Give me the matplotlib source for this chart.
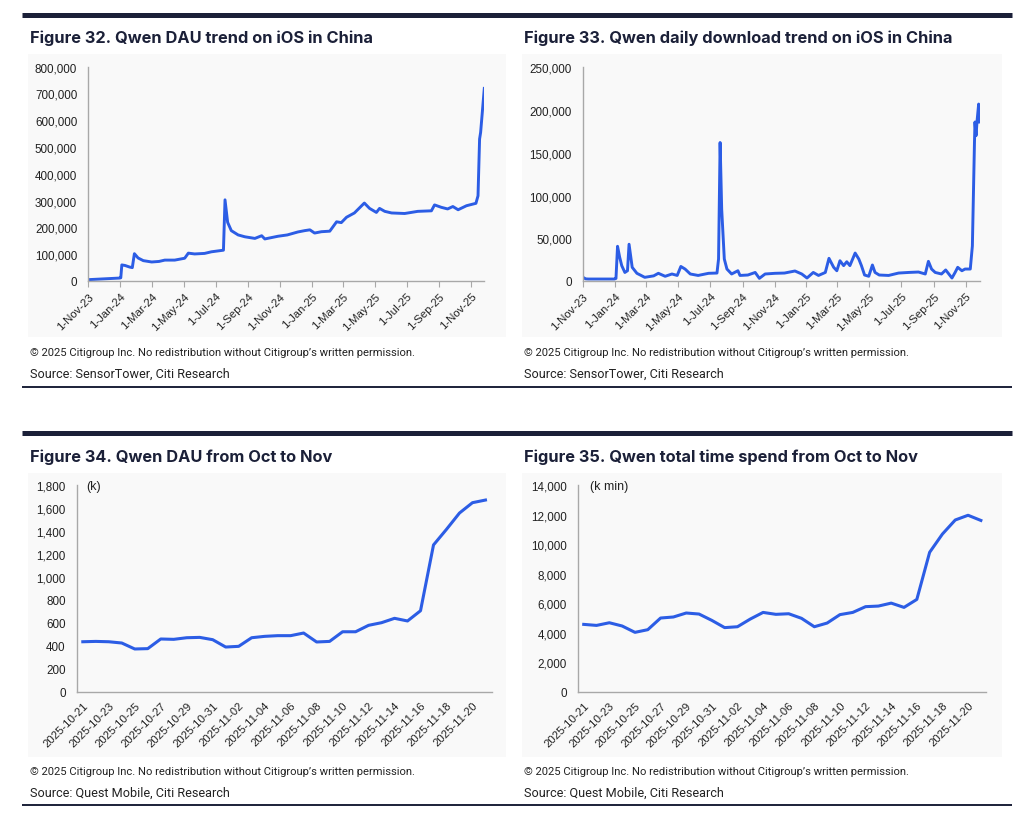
import matplotlib
matplotlib.use("Agg")
import matplotlib.pyplot as plt
import matplotlib.dates as mdates
import pandas as pd
from matplotlib.patches import Rectangle
from matplotlib.lines import Line2D

# ---------------- data ----------------
dau_ios_dates = [
    "2023-11-01", "2023-12-31", "2024-01-02", "2024-01-04", "2024-01-10", "2024-01-19",
    "2024-01-24", "2024-01-28", "2024-02-04", "2024-02-14", "2024-03-01", "2024-03-15",
    "2024-03-26", "2024-04-14", "2024-05-03", "2024-05-10", "2024-05-22", "2024-06-10",
    "2024-06-23", "2024-07-16", "2024-07-19", "2024-07-24", "2024-07-31", "2024-08-13",
    "2024-08-26", "2024-09-14", "2024-09-27", "2024-10-03", "2024-10-28", "2024-11-15",
    "2024-12-05", "2024-12-18", "2024-12-28", "2025-01-06", "2025-01-19", "2025-02-04",
    "2025-02-17", "2025-02-26", "2025-03-08", "2025-03-23", "2025-04-11", "2025-04-21",
    "2025-05-04", "2025-05-10", "2025-05-20", "2025-06-02", "2025-06-27", "2025-07-22",
    "2025-08-17", "2025-08-23", "2025-09-05", "2025-09-17", "2025-09-27", "2025-10-07",
    "2025-10-23", "2025-11-10", "2025-11-14", "2025-11-17", "2025-11-19", "2025-11-26",
]
dau_ios_values = [
    5000, 11000, 12000, 60000, 58000, 52000,
    50000, 102000, 86000, 76000, 71000, 73000,
    78000, 78000, 85000, 104000, 101000, 103000,
    109000, 115000, 303000, 219000, 188000, 172000,
    165000, 159000, 169000, 157000, 167000, 172000,
    183000, 188000, 191000, 179000, 184000, 186000,
    221000, 218000, 238000, 254000, 291000, 271000,
    256000, 271000, 260000, 254000, 252000, 260000,
    262000, 284000, 275000, 269000, 278000, 266000,
    281000, 290000, 318000, 530000, 555000, 719000,
]

dl_ios_dates = [
    "2023-11-01", "2023-11-06", "2023-11-11", "2023-12-31", "2024-01-03", "2024-01-06",
    "2024-01-10", "2024-01-14", "2024-01-20", "2024-01-25", "2024-01-28", "2024-02-03",
    "2024-02-12", "2024-02-27", "2024-03-15", "2024-03-24", "2024-04-06", "2024-04-19",
    "2024-04-29", "2024-05-06", "2024-05-14", "2024-05-24", "2024-06-08", "2024-06-28",
    "2024-07-14", "2024-07-17", "2024-07-20", "2024-07-23", "2024-07-28", "2024-08-02",
    "2024-08-11", "2024-08-23", "2024-08-27", "2024-09-11", "2024-09-25", "2024-10-03",
    "2024-10-14", "2024-11-02", "2024-11-20", "2024-12-10", "2024-12-23", "2025-01-02",
    "2025-01-14", "2025-01-24", "2025-02-06", "2025-02-13", "2025-02-22", "2025-02-28",
    "2025-03-06", "2025-03-13", "2025-03-19", "2025-03-25", "2025-04-04", "2025-04-11",
    "2025-04-16", "2025-04-22", "2025-04-30", "2025-05-07", "2025-05-12", "2025-05-20",
    "2025-06-07", "2025-06-26", "2025-07-15", "2025-08-03", "2025-08-16", "2025-08-22",
    "2025-08-28", "2025-09-04", "2025-09-16", "2025-09-24", "2025-09-30", "2025-10-06",
    "2025-10-12", "2025-10-17", "2025-10-25", "2025-10-31", "2025-11-10", "2025-11-14",
    "2025-11-18", "2025-11-19", "2025-11-21", "2025-11-23", "2025-11-26", "2025-11-28",
]
dl_ios_values = [
    4300, 2500, 2300, 2300, 3000, 40600,
    28000, 18000, 10000, 12000, 43000, 16000,
    9000, 4300, 6000, 9000, 5500, 8200,
    6500, 17000, 14000, 8200, 6500, 9000,
    9300, 25700, 162000, 84000, 25700, 14000,
    8200, 12000, 6500, 7000, 10000, 3100,
    8200, 9000, 9300, 11700, 8200, 3500,
    10000, 6500, 10000, 26500, 16000, 12000,
    23700, 18000, 22500, 18000, 32700, 25700,
    18000, 7000, 5500, 18700, 10000, 7000,
    6500, 9300, 10000, 10500, 8200, 23000,
    14000, 10000, 8200, 12900, 8200, 3500,
    10000, 16000, 12000, 14000, 14000, 41000,
    162000, 186000, 170000, 187500, 207000, 186000,
]

ios_tick_dates = ["2023-11-01", "2024-01-01", "2024-03-01", "2024-05-01", "2024-07-01",
                  "2024-09-01", "2024-11-01", "2025-01-01", "2025-03-01", "2025-05-01",
                  "2025-07-01", "2025-09-01", "2025-11-01"]
ios_tick_labels = ["1-Nov-23", "1-Jan-24", "1-Mar-24", "1-May-24", "1-Jul-24", "1-Sep-24",
                   "1-Nov-24", "1-Jan-25", "1-Mar-25", "1-May-25", "1-Jul-25", "1-Sep-25",
                   "1-Nov-25"]

qm_dates = ["2025-10-21", "2025-10-22", "2025-10-23", "2025-10-24", "2025-10-25",
            "2025-10-26", "2025-10-27", "2025-10-28", "2025-10-29", "2025-10-30",
            "2025-10-31", "2025-11-01", "2025-11-02", "2025-11-03", "2025-11-04",
            "2025-11-05", "2025-11-06", "2025-11-07", "2025-11-08", "2025-11-09",
            "2025-11-10", "2025-11-11", "2025-11-12", "2025-11-13", "2025-11-14",
            "2025-11-15", "2025-11-16", "2025-11-17", "2025-11-18", "2025-11-19",
            "2025-11-20", "2025-11-21"]
qm_dau_k = [435, 438, 435, 424, 372, 375, 459, 456, 470, 473,
            453, 389, 395, 470, 482, 488, 488, 511, 433, 438,
            522, 522, 578, 601, 639, 616, 705, 1278, 1414, 1556,
            1646, 1669]
qm_time_kmin = [4560, 4490, 4670, 4450, 4020, 4200, 4990, 5060, 5330, 5260,
                4830, 4340, 4400, 4920, 5370, 5240, 5280, 4970, 4400, 4650,
                5220, 5370, 5760, 5800, 6000, 5710, 6250, 9440, 10680, 11630,
                11950, 11600]

# ---------------- style ----------------
W, H = 1024, 829
BLUE = "#2c5de5"
NAVY = "#1b2038"
SPINE = "#a8a8a8"
TXT = "#222222"
BG = "#f9f9f9"
TICKFONT = ["Liberation Sans", "DejaVu Sans"]
TITLEFONT = ["Inter", "DejaVu Sans"]
FOOTFONT = ["Liberation Sans Narrow", "Roboto", "DejaVu Sans"]

fig = plt.figure(figsize=(W / 100, H / 100), dpi=100)
fig.patch.set_facecolor("white")


def rect(l, t, r, b):
    return [l / W, 1 - b / H, (r - l) / W, (b - t) / H]


def hline(x0, x1, y, lw, color=NAVY):
    fig.add_artist(Line2D([x0 / W, x1 / W], [1 - y / H, 1 - y / H], lw=lw, color=color,
                          solid_capstyle="butt", transform=fig.transFigure))


def bgpatch(l, t, r, b):
    fig.add_artist(Rectangle((l / W, 1 - b / H), (r - l) / W, (b - t) / H,
                             transform=fig.transFigure, facecolor=BG, edgecolor="none", zorder=0))


# rules
hline(22, 1012, 15.8, 3.6)
hline(22, 1012, 387.7, 1.4)
hline(22, 1012, 434.2, 3.6)
hline(22, 1012, 806.0, 1.4)

# light backgrounds
bgpatch(28, 55, 506, 338)
bgpatch(522, 55, 1002, 338)
bgpatch(28, 474, 506, 758)
bgpatch(522, 474, 1002, 758)

# titles
titles = [("Figure 32. Qwen DAU trend on iOS in China", 30, 38),
          ("Figure 33. Qwen daily download trend on iOS in China", 524, 38),
          ("Figure 34. Qwen DAU from Oct to Nov", 30, 457),
          ("Figure 35. Qwen total time spend from Oct to Nov", 524, 457)]
for t, x, y in titles:
    fig.text(x / W, 1 - y / H, t, ha="left", va="center", fontsize=11.8,
             fontweight="bold", color=NAVY, family=TITLEFONT)

# footers
copy = "\u00a9 2025 Citigroup Inc. No redistribution without Citigroup\u2019s written permission."
foot = [(30, 353, 374, "Source: SensorTower, Citi Research"),
        (524, 353, 374, "Source: SensorTower, Citi Research"),
        (30, 772, 793, "Source: Quest Mobile, Citi Research"),
        (524, 772, 793, "Source: Quest Mobile, Citi Research")]
for x, y1, y2, s in foot:
    fig.text(x / W, 1 - y1 / H, copy, ha="left", va="center", fontsize=8.15,
             color=TXT, family=FOOTFONT)
    fig.text(x / W, 1 - y2 / H, s, ha="left", va="center", fontsize=9.1,
             color=TXT, family=FOOTFONT)


def style_axes(ax):
    ax.set_facecolor("none")
    for s in ("top", "right"):
        ax.spines[s].set_visible(False)
    for s in ("left", "bottom"):
        ax.spines[s].set_color(SPINE)
        ax.spines[s].set_linewidth(1.0)
    ax.tick_params(axis="y", length=0, pad=8, labelsize=8.4, labelcolor=TXT)
    for lab in ax.get_yticklabels():
        lab.set_family(TICKFONT)


def thousands(v, pos=None):
    return f"{int(round(v)):,}"


# ---- top-left: DAU on iOS ----
ax1 = fig.add_axes(rect(88.3, 67.7, 484.3, 282))
d1 = pd.to_datetime(dau_ios_dates)
ax1.plot(d1, dau_ios_values, color=BLUE, lw=2.1, solid_joinstyle="round")
ax1.set_ylim(0, 800000)
ax1.set_yticks(range(0, 800001, 100000))
ax1.yaxis.set_major_formatter(plt.FuncFormatter(thousands))
ax1.set_xlim(pd.Timestamp("2023-11-01"), d1[-1])

# ---- top-right: downloads ----
ax2 = fig.add_axes(rect(583, 68.3, 979.7, 282))
d2 = pd.to_datetime(dl_ios_dates)
ax2.plot(d2, dl_ios_values, color=BLUE, lw=2.1, solid_joinstyle="round")
ax2.set_ylim(0, 250000)
ax2.set_yticks(range(0, 250001, 50000))
ax2.yaxis.set_major_formatter(plt.FuncFormatter(thousands))
ax2.set_xlim(pd.Timestamp("2023-11-01"), d2[-1])

for ax in (ax1, ax2):
    ax.set_xticks(pd.to_datetime(ios_tick_dates))
    ax.set_xticklabels(ios_tick_labels, rotation=45, ha="right", rotation_mode="anchor",
                       fontsize=8.2, color=TXT, family=TICKFONT)
    ax.tick_params(axis="x", length=4, color=SPINE, pad=3, direction="out")
    style_axes(ax)

# ---- bottom-left: QM DAU ----
xs = list(range(len(qm_dates)))
ax3 = fig.add_axes(rect(76.7, 486, 491.7, 692.7))
ax3.plot(xs, qm_dau_k, color=BLUE, lw=2.2, solid_joinstyle="round")
ax3.set_ylim(0, 1800)
ax3.set_yticks(range(0, 1801, 200))
ax3.yaxis.set_major_formatter(plt.FuncFormatter(thousands))
ax3.set_xlim(-0.47, len(xs) - 1 + 0.48)
ax3.text(86 / W, 1 - 487 / H, "(k)", transform=fig.transFigure, ha="left", va="center",
         fontsize=9, color=TXT, family=TICKFONT)

# ---- bottom-right: QM time spent ----
ax4 = fig.add_axes(rect(577.7, 486, 986, 692.7))
ax4.plot(xs, qm_time_kmin, color=BLUE, lw=2.2, solid_joinstyle="round")
ax4.set_ylim(0, 14000)
ax4.set_yticks(range(0, 14001, 2000))
ax4.yaxis.set_major_formatter(plt.FuncFormatter(thousands))
ax4.set_xlim(-0.47, len(xs) - 1 + 0.4)
ax4.text(590 / W, 1 - 487 / H, "(k min)", transform=fig.transFigure, ha="left", va="center",
         fontsize=9, color=TXT, family=TICKFONT)

for ax in (ax3, ax4):
    ax.set_xticks(xs[::2])
    ax.set_xticklabels(qm_dates[::2], rotation=45, ha="right", rotation_mode="anchor",
                       fontsize=8.2, color=TXT, family=TICKFONT)
    ax.tick_params(axis="x", length=0, pad=6)
    style_axes(ax)

fig.savefig("out.png", dpi=100, facecolor="white")
